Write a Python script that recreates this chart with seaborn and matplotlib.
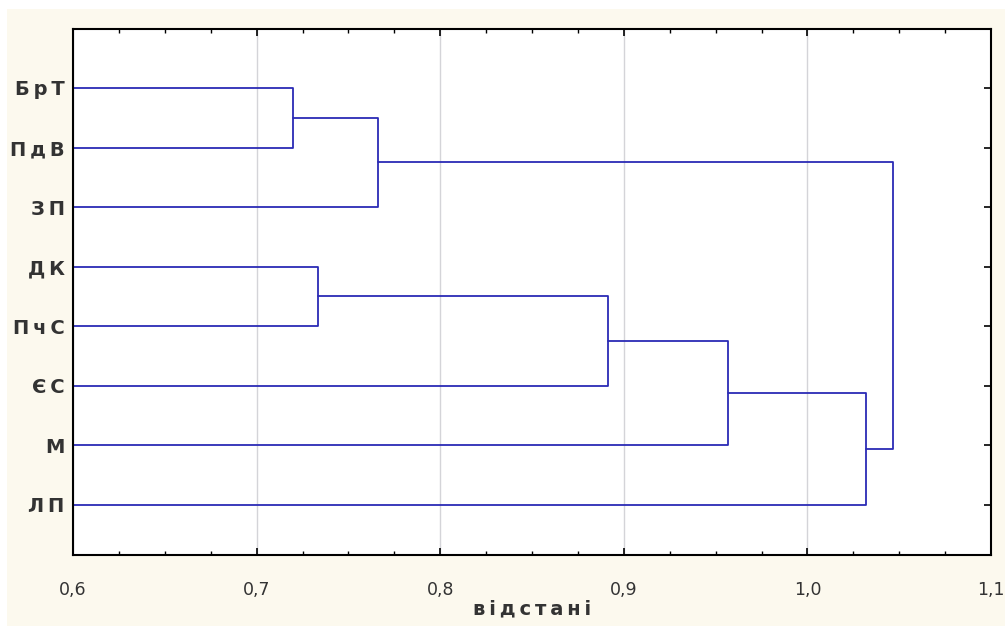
import numpy as np
import pandas as pd
import matplotlib
matplotlib.use("Agg")
import matplotlib.pyplot as plt
from matplotlib.patches import Rectangle
from matplotlib.ticker import MultipleLocator, FuncFormatter
import seaborn as sns

# Leaf labels (top to bottom)
leaves = ["БрТ", "ПдВ", "ЗП", "ДК", "ПчС", "ЄС", "М", "ЛП"]
# Merges: children are leaf indices or "c<k>" (k-th merge); distance of each merge
merge_left = [0, 3, "c0", "c1", "c3", "c4", "c2"]
merge_right = [1, 4, 2, 5, 6, 7, "c5"]
merge_dist = [0.720, 0.7335, 0.766, 0.8915, 0.9565, 1.032, 1.0467]
xticks = [0.6, 0.7, 0.8, 0.9, 1.0, 1.1]

sns.set_theme(style="white")
plt.rcParams['font.family'] = ['DejaVu Sans']

fig = plt.figure(figsize=(10.05, 6.26), dpi=100, facecolor="white")
fig.patches.append(Rectangle((7/1005, 0), 1 - 7/1005, 1 - 9/626, transform=fig.transFigure,
                             facecolor="#fcf9ee", edgecolor="none", zorder=-10))
ax = fig.add_axes([73/1005, 1 - 555/626, (991-73)/1005, (555-29)/626])
ax.set_facecolor("white")

# compute node positions
pos = {}
hgt = {}
for i in range(len(leaves)):
    pos[i] = float(i)
    hgt[i] = 0.0

rows = []
seg = 0
for k, (a, b, d) in enumerate(zip(merge_left, merge_right, merge_dist)):
    ya, yb = pos[a], pos[b]
    xa = hgt[a] if hgt[a] > 0 else 0.55
    xb = hgt[b] if hgt[b] > 0 else 0.55
    pts = [(xa, ya), (d, ya), (d, yb), (xb, yb)]
    for order, (x, y) in enumerate(pts):
        rows.append({"seg": seg, "order": order, "x": x, "y": y})
    seg += 1
    pos["c%d" % k] = (ya + yb) / 2
    hgt["c%d" % k] = d

df = pd.DataFrame(rows)
sns.lineplot(data=df, x="x", y="y", units="seg", estimator=None, sort=False,
             color="#2b2bb5", lw=1.3, ax=ax)

ax.set_xlim(0.6, 1.1)
ax.set_ylim(7.84, -0.99)
ax.set_xticks(xticks)
ax.xaxis.set_minor_locator(MultipleLocator(0.025))
ax.xaxis.set_major_formatter(FuncFormatter(lambda v, p: ("%.1f" % v).replace(".", ",")))
ax.grid(axis="x", color="#d4d4d8", lw=1)
ax.set_axisbelow(True)

ax.set_yticks(range(len(leaves)))
ax.set_yticklabels(["\u2009".join(list(s)) for s in leaves], fontsize=14, fontweight="bold",
                   color="#333333")
ax.tick_params(axis="y", which="major", left=False, right=True, direction="in", length=5,
               width=1.2, color="black", pad=6)
ax.tick_params(axis="x", which="major", bottom=True, top=True, direction="in", length=5,
               width=1.2, color="black", pad=19, labelsize=12.5, labelcolor="#333333")
ax.tick_params(axis="x", which="minor", bottom=True, top=True, direction="in", length=3,
               width=1.0, color="black")
for s in ax.spines.values():
    s.set_color("black")
    s.set_linewidth(1.5)
    s.set_visible(True)

ax.set_xlabel("\u2009".join(list("відстані")), fontsize=14, fontweight="bold", color="#333333",
              labelpad=0)
ax.set_ylabel("")

fig.savefig("out.png", dpi=100, facecolor=fig.get_facecolor())
